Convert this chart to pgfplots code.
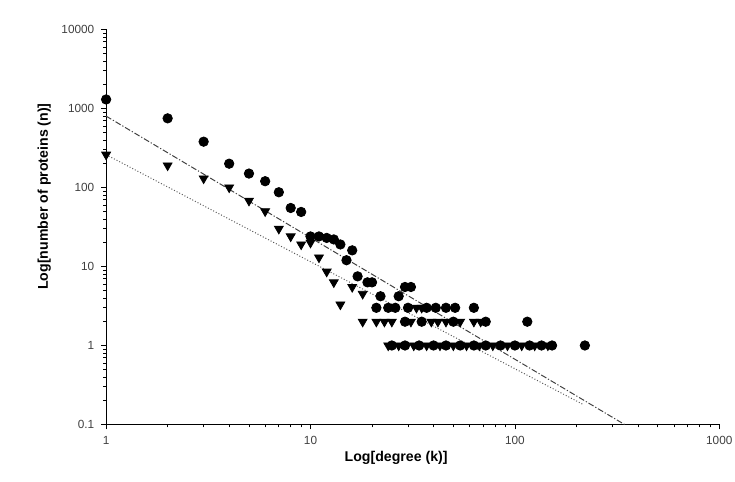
\documentclass[border=0pt]{standalone}
\usepackage{pgfplots}
\pgfplotsset{compat=1.18}
\usepackage{fontspec}
\setmainfont{Liberation Sans}
\begin{document}
\begin{tikzpicture}
\begin{axis}[
  at={(0,0)}, anchor=south west,
  scale only axis, width=312pt, height=201pt,
  xmode=log, ymode=log,
  xmin=1, xmax=1000, ymin=0.1, ymax=10000,
  axis lines*=left,
  axis line style={black, line width=0.5pt},
  tick style={black, line width=0.4pt},
  tick align=outside,
  major tick length=2.5pt, minor tick length=1.5pt,
  xtick={1,10,100,1000}, xticklabels={1,10,100,1000},
  ytick={0.1,1,10,100,1000,10000}, yticklabels={0.1,1,10,100,1000,10000},
  ticklabel style={font=\fontsize{6}{7}\selectfont, text=black!75},
  xlabel={Log[degree (k)]},
  ylabel={Log[number of proteins (n)]},
  label style={font=\fontsize{7.2}{8}\selectfont\bfseries},
  xlabel style={at={(axis description cs:0.473,-0.085)}, anchor=center},
  ylabel style={at={(axis description cs:-0.101,0.577)}, anchor=center},
  clip=false,
]
% power-law fits
\addplot[black!75, line width=0.5pt, dash pattern=on 3pt off 1pt on 0.6pt off 1pt] coordinates {(1,800) (344,0.1)};
\addplot[black!65, line width=0.5pt, densely dotted] coordinates {(1,260) (215,0.18)};

% circles
\addplot[only marks, mark=*, mark size=2.4pt, black] coordinates {
  (1,1300) (2,750) (3,380) (4,200) (5,150) (6,120) (7,87) (8,55) (9,49)
  (10,24) (11,24) (12,23) (13,22) (14,19) (16,16) (15,12) (17,7.5)
  (19,6.3) (20,6.3) (22,4.2) (27,4.2) (29,5.5) (31,5.5)
  (21,3) (24,3) (26,3) (30,3) (37,3) (41,3) (46,3) (51,3) (63,3)
  (29,2) (35,2) (50,2) (72,2) (115,2)
  (25,1) (29,1) (34,1) (40,1) (46,1) (54,1) (63,1) (72,1) (85,1)
  (100,1) (118,1) (135,1) (152,1) (220,1)
};

% triangles
\addplot[only marks, mark=triangle*, mark size=2.6pt, black, mark options={rotate=180}] coordinates {
  (1,260) (2,190) (3,130) (4,100) (5,68) (6,50) (7,30) (8,24) (9,19)
  (10,20) (11,13) (12,8.6) (13,6.3) (14,3.3) (16,5.5) (18,4.5)
  (33,3) (35,3)
  (18,2) (21,2) (23,2) (25,2) (31,2) (39,2) (42,2) (46,2) (54,2) (63,2) (68,2)
  (24,1) (27,1) (32,1) (37,1) (43,1) (50,1) (58,1) (67,1) (78,1) (92,1)
  (108,1) (125,1) (145,1)
};
\end{axis}
\pgfresetboundingbox
\path[use as bounding box] (-54pt,-29pt) rectangle (320pt,216pt);
\end{tikzpicture}
\end{document}
